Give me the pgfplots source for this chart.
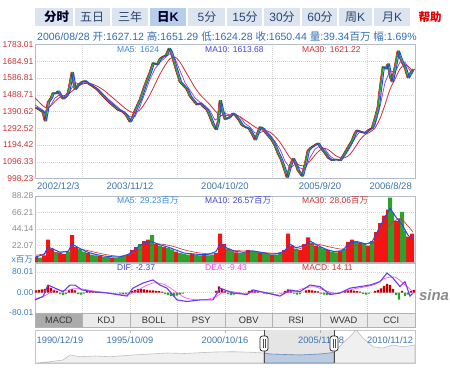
\documentclass[border=0pt]{standalone}
\usepackage{fontspec}
\setmainfont{Liberation Sans}
\newfontfamily\cjk{Noto Sans CJK SC}
\usepackage{pgfplots}
\usepackage{pgfplotstable}
\pgfplotsset{compat=1.18}
\newcommand\fs[1]{\fontsize{#1bp}{#1bp}\selectfont}
\definecolor{pricered}{HTML}{CC3333}
\definecolor{lblue}{HTML}{3D8AD8}
\definecolor{mblue}{HTML}{4444DD}
\definecolor{infoblue}{HTML}{2F6DB5}
\definecolor{tabbg}{HTML}{DCE5EF}
\definecolor{tabsel}{HTML}{B6CDEB}
\definecolor{tabtext}{HTML}{2A4470}
\definecolor{framec}{HTML}{B4BCC8}
\definecolor{gridc}{HTML}{D4D4D4}
\definecolor{candleg}{HTML}{2E9E2E}
\definecolor{volred}{HTML}{F41414}
\definecolor{volgreen}{HTML}{2EA02E}
\definecolor{ma5}{HTML}{1F4FE8}
\definecolor{ma10}{HTML}{9040C0}
\definecolor{ma30}{HTML}{D03030}
\definecolor{difc}{HTML}{6A3CF0}
\definecolor{deac}{HTML}{FF40FF}
\definecolor{axlab}{HTML}{3A7FC4}
\definecolor{datec}{HTML}{3F74B0}
\definecolor{navblue}{HTML}{BCCBDD}
\definecolor{navline}{HTML}{6A90BC}

\pgfplotstableread{
x price
35 1415
38 1405
41 1395
43 1385
45 1335
47 1400
48 1445
51 1470
53 1500
56 1495
58 1510
61 1480
63 1465
66 1480
68 1500
70 1555
72 1620
73 1580
75 1520
78 1545
82 1565
85 1570
88 1555
92 1540
97 1520
101 1495
105 1470
110 1440
114 1420
118 1400
123 1388
126 1370
130 1330
133 1365
136 1410
140 1460
144 1530
147 1577
150 1620
153 1675
157 1665
160 1700
163 1712
166 1720
169 1760
171 1740
173 1700
176 1640
180 1565
183 1545
187 1520
190 1480
194 1450
197 1430
200 1440
203 1420
207 1400
210 1360
213 1315
216 1285
218 1330
220 1455
222 1400
225 1345
229 1355
233 1380
235 1370
239 1340
242 1310
245 1300
249 1290
252 1260
255 1225
258 1270
260 1300
263 1290
265 1270
268 1250
272 1222
275 1190
278 1146
281 1110
284 1060
287 1005
290 1070
293 1116
296 1080
298 1045
300 1030
302 1012
305 1080
308 1163
311 1180
315 1195
318 1205
321 1175
325 1146
328 1120
332 1104
336 1110
340 1104
344 1140
348 1181
352 1220
355 1265
357 1281
361 1270
365 1264
369 1285
372 1293
375 1350
378 1417
380 1520
383 1653
386 1640
388 1670
390 1600
392 1565
395 1650
398 1745
400 1710
402 1680
405 1647
408 1588
410 1610
413 1640
}\pricetab

\begin{document}
\begin{tikzpicture}[x=1bp,y=1bp]
\useasboundingbox (0,0) rectangle (450,367);
\fill[white] (0,0) rectangle (450,367);
\coordinate (pP) at (35,188.5);
\coordinate (pV) at (35,105);
\coordinate (pM) at (35,54);
\coordinate (pN) at (35,4);

% ---------- top tab bar ----------
\fill[tabbg] (35,{367-26}) rectangle (410,{367-8});
\fill[tabsel] (150,{367-26}) rectangle (187,{367-8});
\foreach \sx in {74,111,149,187,226,263,301,338,373}
  \draw[white, line width=1.6bp] (\sx,{367-26}) -- (\sx,{367-8});
\begin{scope}[every node/.style={text=tabtext, inner sep=0pt}]
\node[font=\fs{12.5}\bfseries\cjk, text=black!85!blue] at (56.5,{367-17}) {分时};
\node[font=\fs{12}\cjk] at (92,{367-17}) {五日};
\node[font=\fs{12}\cjk] at (130,{367-17}) {三年};
\node[font=\fs{12.5}\bfseries, text=black!85!blue] at (168,{367-17}) {{\cjk 日}K};
\node[font=\fs{12}] at (207,{367-17}) {5{\cjk 分}};
\node[font=\fs{12}] at (245,{367-17}) {15{\cjk 分}};
\node[font=\fs{12}] at (282,{367-17}) {30{\cjk 分}};
\node[font=\fs{12}] at (320,{367-17}) {60{\cjk 分}};
\node[font=\fs{12}] at (355,{367-17}) {{\cjk 周}K};
\node[font=\fs{12}] at (392,{367-17}) {{\cjk 月}K};
\node[font=\fs{11.5}\bfseries\cjk, text=red!90!black] at (430,{367-17}) {帮助};
\end{scope}

% ---------- info line ----------
\node[anchor=west, inner sep=0pt, text=infoblue, font=\fs{10.5}] at (37,{367-37})
 {2006/08/28 {\cjk 开}:1627.12 {\cjk 高}:1651.29 {\cjk 低}:1624.28 {\cjk 收}:1650.44 {\cjk 量}:39.34{\cjk 百万} {\cjk 幅}:1.69\%};

\pgfplotsset{panel/.style={scale only axis, width=380bp, xmin=35, xmax=415,
  axis line style={draw=framec},
  xtick={82.5,130,177.5,225,272.5,320,367.5}, xticklabels={},
  xmajorgrids, ymajorgrids,
  major grid style={draw=gridc, dash pattern=on 1bp off 1bp},
  tick style={draw=none},
  yticklabel style={font=\fs{8.5}, inner sep=1.5bp}}}

% ---------- price panel ----------
\begin{axis}[panel, at={(pP)}, anchor=south west, height=134bp,
  ymin=998.23, ymax=1783.01,
  ytick={998.23,1096.33,1194.42,1292.52,1390.62,1488.71,1586.81,1684.91,1783.01},
  yticklabels={998.23,1096.33,1194.42,1292.52,1390.62,1488.71,1586.81,1684.91,1783.01},
  yticklabel style={text=pricered}]
\addplot[candleg, line width=1.6bp, line join=round] table[x=x,y=price]{\pricetab};
\addplot[red!80!black, line width=0.5bp, line join=round] table[x expr=\thisrow{x}-1,y=price]{\pricetab};
\addplot[ma30, line width=0.8bp, smooth] coordinates {(35,1470)(40,1440)(45,1415)(50,1420)(55,1450)(60,1475)(65,1485)(70,1500)(75,1525)(80,1545)(85,1555)(90,1555)(95,1545)(100,1530)(105,1510)(110,1485)(115,1460)(120,1435)(125,1410)(130,1390)(135,1385)(140,1400)(145,1440)(150,1490)(155,1550)(160,1610)(165,1660)(170,1700)(175,1710)(180,1680)(185,1630)(190,1580)(195,1530)(200,1490)(205,1460)(210,1430)(215,1395)(220,1370)(225,1365)(230,1370)(235,1370)(240,1360)(245,1340)(250,1320)(255,1300)(260,1285)(265,1280)(270,1270)(275,1245)(280,1210)(285,1165)(290,1120)(295,1090)(300,1075)(305,1075)(310,1100)(315,1135)(320,1165)(325,1175)(330,1160)(335,1135)(340,1120)(345,1120)(350,1140)(355,1180)(360,1225)(365,1255)(370,1270)(375,1295)(380,1350)(385,1430)(390,1520)(395,1580)(400,1640)(405,1665)(410,1645)(413,1621)};
\addplot[ma10, line width=0.7bp] coordinates {(35,1430)(40,1410)(45,1390)(50,1420)(55,1470)(60,1490)(65,1480)(70,1510)(75,1560)(80,1550)(85,1560)(90,1555)(95,1535)(100,1510)(105,1480)(110,1455)(115,1430)(120,1405)(125,1385)(130,1360)(135,1360)(140,1420)(145,1500)(150,1580)(155,1640)(160,1680)(165,1705)(170,1730)(175,1700)(180,1630)(185,1560)(190,1515)(195,1470)(200,1445)(205,1425)(210,1395)(215,1340)(220,1360)(225,1380)(230,1370)(235,1375)(240,1360)(245,1320)(250,1300)(255,1265)(260,1265)(265,1285)(270,1255)(275,1215)(280,1170)(285,1100)(290,1060)(295,1080)(300,1060)(305,1050)(310,1120)(315,1170)(320,1190)(325,1170)(330,1130)(335,1110)(340,1110)(345,1135)(350,1180)(355,1235)(360,1275)(365,1270)(370,1280)(375,1310)(380,1420)(385,1560)(390,1630)(395,1620)(400,1680)(405,1680)(410,1630)(413,1614)};
\addplot[ma5, line width=1bp, line join=round] table[x expr=\thisrow{x}+1.5,y=price]{\pricetab};
\end{axis}

% ---------- volume panel ----------
\begin{axis}[panel, at={(pV)}, anchor=south west, height=66bp,
  ymin=0, ymax=88.28,
  ytick={22.07,44.14,66.21,88.28},
  yticklabels={22.07,44.14,66.21,88.28},
  yticklabel style={text=black!45}]
\addplot[ybar, bar width=4, bar shift=0pt, fill=volred, draw=none] coordinates {(36,7)(44,9)(48,30)(52,18)(60,12)(64,11)(72,36)(76,20)(88,12)(100,8)(112,6)(128,10)(132,16)(136,20)(144,28)(148,30)(156,24)(164,20)(176,14)(192,11)(204,10)(216,12)(220,38)(224,24)(236,13)(248,16)(260,13)(272,10)(284,16)(288,38)(292,22)(300,16)(304,24)(308,33)(316,22)(328,16)(340,15)(348,27)(352,30)(360,26)(368,22)(376,40)(380,52)(384,62)(388,70)(396,55)(400,58)(408,34)(412,38)};
\addplot[ybar, bar width=4, bar shift=0pt, fill=volgreen, draw=none] coordinates {(40,6)(56,13)(68,14)(80,17)(84,14)(92,10)(96,9)(104,7)(108,7)(116,6)(120,7)(124,8)(140,24)(152,36)(160,22)(168,19)(172,17)(180,12)(184,11)(188,10)(196,10)(200,9)(208,9)(212,10)(228,18)(232,15)(240,12)(244,13)(252,15)(256,14)(264,12)(268,11)(276,10)(280,12)(296,18)(312,26)(320,20)(324,18)(332,14)(336,13)(344,18)(356,28)(364,24)(372,28)(390,86)(392,66)(402,67)(404,42)};
\addplot[ma30, line width=0.6bp, smooth] coordinates {(36,9)(50,12)(65,14)(80,17)(95,13)(110,9)(125,8)(140,16)(155,24)(170,22)(185,16)(200,12)(215,11)(225,15)(240,15)(255,14)(270,12)(285,12)(300,18)(315,24)(330,20)(345,17)(360,24)(372,25)(380,32)(390,50)(400,58)(408,48)(413,40)};
\addplot[ma5, line width=1bp] coordinates {(36,7)(44,10)(48,20)(52,18)(60,13)(68,14)(72,24)(80,18)(88,13)(96,10)(104,8)(112,7)(120,7)(128,10)(136,18)(144,26)(152,27)(160,23)(168,20)(176,16)(184,12)(192,11)(200,10)(208,10)(216,14)(220,24)(228,18)(236,14)(244,13)(252,15)(260,13)(268,11)(276,11)(284,14)(290,24)(296,19)(304,22)(310,28)(318,22)(326,17)(334,14)(342,15)(350,26)(358,27)(366,24)(372,27)(378,42)(384,58)(390,72)(396,60)(402,50)(408,36)(413,30)};
\end{axis}
\node[anchor=east, inner sep=0pt, text=axlab, font=\fs{8.5}] at (33,{367-260}) {x{\cjk 百万}};

% ---------- MACD panel ----------
\begin{axis}[panel, at={(pM)}, anchor=south west, height=50bp,
  ymin=-80.01, ymax=115.1,
  ytick={-80.01,0,80.01},
  yticklabels={-80.01,0.00,80.01},
  yticklabel style={text=axlab}]
\addplot[ybar, bar width=2.4, bar shift=0pt, fill=red!75!black, draw=none] coordinates {(36,8)(39,10)(42,12)(45,14)(48,28)(51,18)(54,10)(57,6)(69,8)(72,14)(75,8)(87,5)(90,6)(93,4)(96,3)(99,2)(102,2)(132,6)(135,10)(138,14)(141,14)(144,12)(147,10)(150,8)(153,8)(156,6)(159,5)(162,3)(216,6)(219,24)(222,14)(225,6)(249,6)(252,10)(255,8)(258,4)(285,6)(288,12)(291,8)(306,8)(309,10)(312,8)(315,6)(318,4)(345,5)(348,8)(351,9)(354,7)(357,5)(360,3)(375,6)(378,10)(381,16)(384,26)(387,34)(390,30)(393,14)(402,6)(411,6)(414,10)};
\addplot[ybar, bar width=2.4, bar shift=0pt, fill=volgreen, draw=none] coordinates {(60,-6)(63,-10)(66,-6)(78,-6)(81,-8)(84,-4)(120,-4)(123,-6)(126,-5)(129,-3)(165,-6)(168,-10)(171,-14)(174,-16)(177,-12)(180,-8)(183,-4)(228,-6)(231,-10)(234,-8)(237,-4)(240,-3)(264,-4)(267,-6)(270,-5)(273,-3)(294,-4)(297,-8)(300,-6)(321,-4)(324,-8)(327,-10)(330,-6)(333,-3)(363,-5)(366,-8)(369,-4)(396,-10)(399,-28)(405,-14)(408,-8)};
\addplot[deac, line width=0.6bp, smooth] coordinates {(35,-25)(45,-12)(55,10)(65,8)(75,15)(85,12)(95,5)(105,0)(115,-4)(125,-10)(135,2)(145,25)(155,38)(165,30)(175,5)(185,-20)(195,-28)(205,-28)(215,-18)(225,5)(235,2)(245,-5)(255,3)(265,0)(275,-8)(285,0)(295,5)(305,18)(315,22)(325,8)(335,-3)(345,5)(355,15)(365,22)(375,32)(385,55)(395,60)(402,40)(408,20)(413,5)};
\addplot[difc, line width=1.1bp] coordinates {(35,-29)(43,-16)(48,29)(55,17)(63,3)(70,29)(75,29)(82,10)(93,3)(107,-2)(117,-8)(127,-14)(133,17)(143,37)(153,49)(160,29)(167,17)(177,-29)(187,-35)(200,-29)(213,-29)(220,17)(233,-2)(247,-8)(253,10)(267,-2)(280,-14)(290,10)(300,3)(310,29)(320,23)(330,-8)(340,-2)(350,17)(360,23)(370,29)(380,42)(387,76)(393,56)(400,23)(405,42)(410,-14)(413,-2)};
\end{axis}

% ---------- panel texts ----------
\begin{scope}[every node/.style={anchor=west, inner sep=0pt, font=\fs{8.5}}]
\node[text=lblue] at (117,{367-50}) {MA5: 1624};
\node[text=mblue] at (205,{367-50}) {MA10: 1613.68};
\node[text=pricered] at (302,{367-50}) {MA30: 1621.22};
\node[text=lblue] at (117,{367-201}) {MA5: 29.23{\cjk 百万}};
\node[text=mblue] at (205,{367-201}) {MA10: 26.57{\cjk 百万}};
\node[text=pricered] at (302,{367-201}) {MA30: 28.06{\cjk 百万}};
\node[text=mblue] at (117,{367-268}) {DIF: -2.37};
\node[text=deac] at (205,{367-268}) {DEA: -9.43};
\node[text=pricered] at (302,{367-268}) {MACD: 14.11};
\end{scope}

% ---------- date labels ----------
\begin{scope}[every node/.style={inner sep=0pt, text=datec, font=\fs{9.5}}]
\node[anchor=west] at (37,{367-186.5}) {2002/12/3};
\node at (130,{367-186.5}) {2003/11/12};
\node at (225,{367-186.5}) {2004/10/20};
\node at (320,{367-186.5}) {2005/9/20};
\node[anchor=east] at (412,{367-186.5}) {2006/8/28};
\end{scope}

% ---------- indicator tabs ----------
\foreach \lab [count=\i from 0] in {MACD,KDJ,BOLL,PSY,OBV,RSI,WVAD,CCI} {
  \pgfmathsetmacro{\xa}{35+47.5*\i}
  \pgfmathsetmacro{\xb}{35+47.5*(\i+1)}
  \ifnum\i=0
    \filldraw[fill=black!33, draw=black!30] (\xa,{367-327}) rectangle (\xb,{367-313});
  \else
    \filldraw[fill=black!8, draw=black!30] (\xa,{367-327}) rectangle (\xb,{367-313});
  \fi
  \node[inner sep=0pt, font=\fs{9.3}, text=black!80] at ({(\xa+\xb)/2},{367-320}) {\lab};
}

% ---------- navigator ----------
\begin{axis}[scale only axis, at={(pN)}, anchor=south west, width=380bp, height=33bp,
  xmin=35, xmax=415, ymin=0, ymax=33, axis line style={draw=black!22},
  xtick=\empty, ytick=\empty]
\fill[black!10] (axis cs:264,0) rectangle (axis cs:334,33);
\addplot[fill=black!6, draw=black!25, line width=0.6bp] coordinates {(35,0)(50,1.3)(63,3)(70,8)(80,6.3)(95,7)(110,6.3)(133,8)(150,9)(167,10)(185,9.5)(200,10.3)(215,11)(233,11.3)(250,10.8)(264,10)(270,9)(300,8)(320,9)(334,10.5)(343,20)(350,26.3)(356,33)(363,25)(373,16.3)(383,15)(393,18)(403,16.3)(415,18)} \closedcycle;
\addplot[fill=navblue, draw=navline, line width=0.6bp] coordinates {(264,10)(270,9)(285,8.5)(300,8)(320,9)(334,10.5)} \closedcycle;
\end{axis}
\foreach \tx in {130,225,320}
  \draw[black!30] (\tx,{367-330}) -- (\tx,{367-333});
\begin{scope}[every node/.style={inner sep=0pt, text=datec, font=\fs{9.3}}]
\node at (60,{367-340}) {1990/12/19};
\node at (130,{367-340}) {1995/10/09};
\node at (225,{367-340}) {2000/10/16};
\node at (321,{367-340}) {2005/11/28};
\node at (390,{367-340}) {2010/11/12};
\end{scope}
\foreach \hx in {264,334} {
  \draw[black!70, line width=0.8bp] (\hx,{367-330}) -- (\hx,{367-363});
  \draw[black!85, fill=white, rounded corners=2.5bp, line width=0.7bp] (\hx-4,{367-336}) rectangle (\hx+4,{367-351});
  \draw[black!70, line width=0.5bp] (\hx-1,{367-339}) -- (\hx-1,{367-348}) (\hx+1,{367-339}) -- (\hx+1,{367-348});
}

% ---------- logo ----------
\node[inner sep=0pt, text=black!45, font=\fs{15}\bfseries\itshape] at (434,{367-295}) {sina};
\end{tikzpicture}
\end{document}
